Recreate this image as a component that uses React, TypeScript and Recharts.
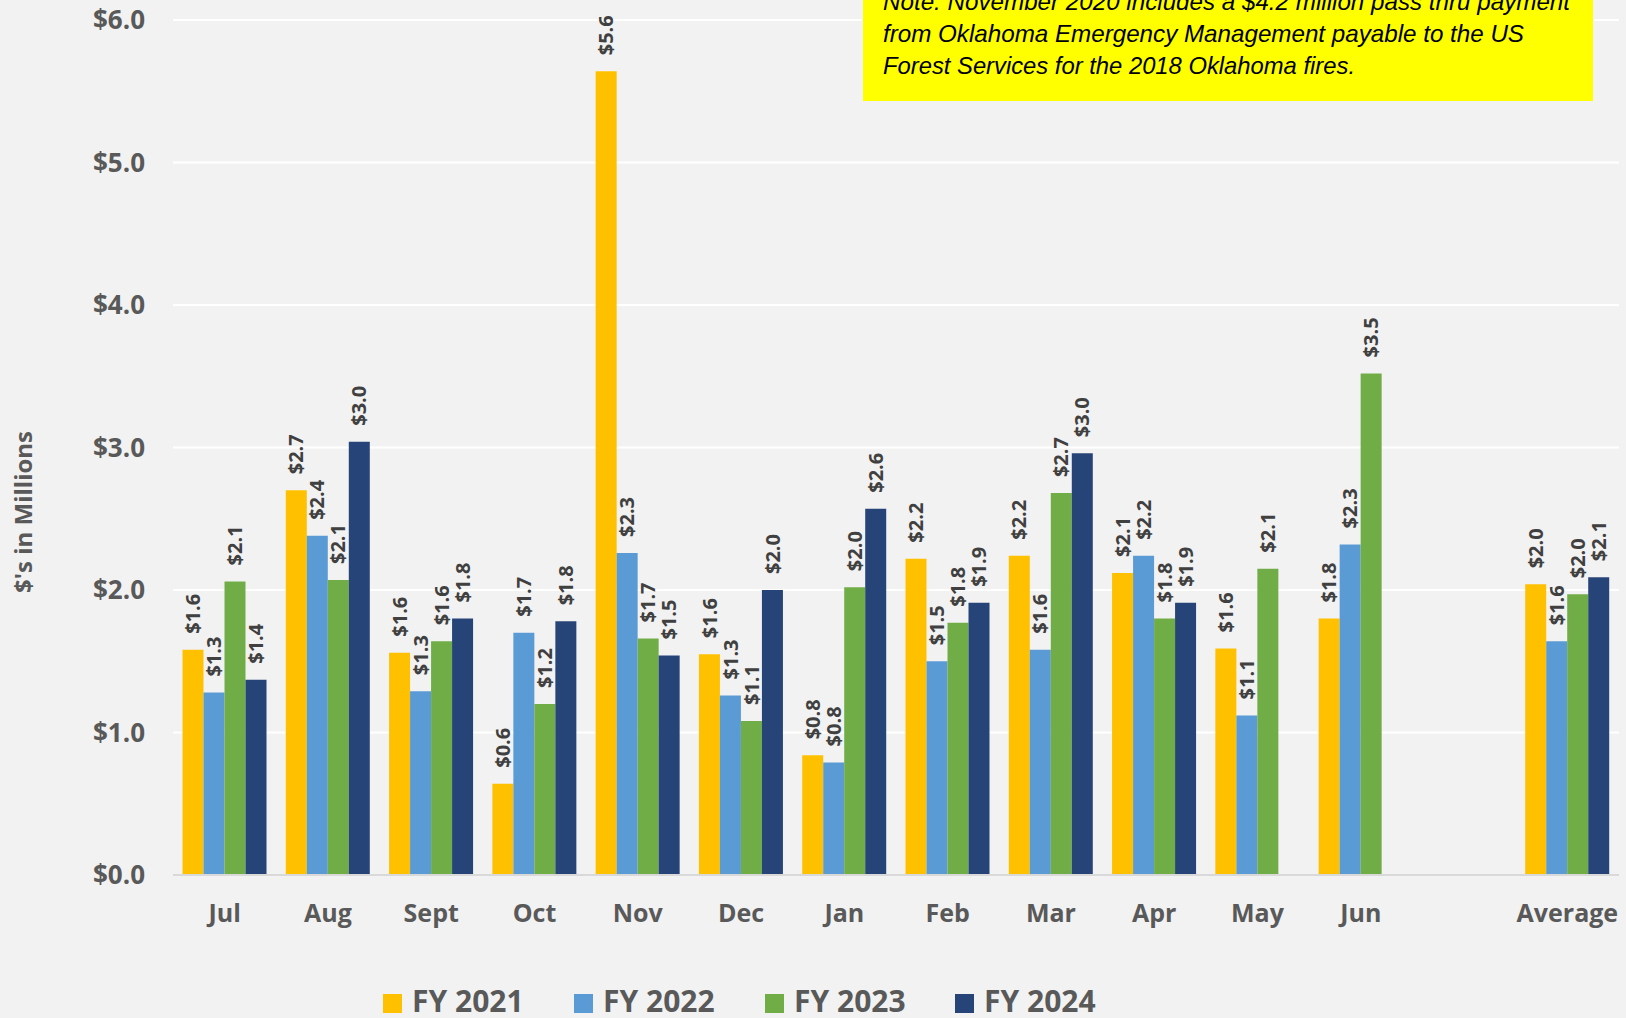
import React from "react";
import { BarChart, Bar, XAxis, YAxis, CartesianGrid, Legend, LabelList } from "recharts";

const categories = ["Jul", "Aug", "Sept", "Oct", "Nov", "Dec", "Jan", "Feb", "Mar", "Apr", "May", "Jun", "", "Average"];
const fy2021 = [1.58, 2.70, 1.56, 0.64, 5.64, 1.55, 0.84, 2.22, 2.24, 2.12, 1.59, 1.80, null, 2.04];
const fy2022 = [1.28, 2.38, 1.29, 1.70, 2.26, 1.26, 0.79, 1.50, 1.58, 2.24, 1.12, 2.32, null, 1.64];
const fy2023 = [2.06, 2.07, 1.64, 1.20, 1.66, 1.08, 2.02, 1.77, 2.68, 1.80, 2.15, 3.52, null, 1.97];
const fy2024 = [1.37, 3.04, 1.80, 1.78, 1.54, 2.00, 2.57, 1.91, 2.96, 1.91, null, null, null, 2.09];
const yTicks = [0, 1, 2, 3, 4, 5, 6];

const seriesNames = ["FY 2021", "FY 2022", "FY 2023", "FY 2024"];
const seriesKeys = ["fy2021", "fy2022", "fy2023", "fy2024"];
const seriesColors = ["#FFC000", "#5B9BD5", "#70AD47", "#264478"];

const noteLines = [
  "Note: November 2020 includes a $4.2 million pass thru payment",
  "from Oklahoma Emergency Management payable to the US",
  "Forest Services for the 2018 Oklahoma fires.",
];

const data = categories.map((c, i) => ({
  name: c,
  fy2021: fy2021[i],
  fy2022: fy2022[i],
  fy2023: fy2023[i],
  fy2024: fy2024[i],
}));

const FONT = "'Open Sans', 'Liberation Sans', sans-serif";
const GRAY = "#595959";

const BarLabel = (props: any) => {
  const { x, y, width, value } = props;
  if (value === null || value === undefined) return null;
  const cx = x + width / 2;
  const ty = y - 16;
  return (
    <text
      x={cx}
      y={ty}
      dy="0.36em"
      transform={`rotate(-90, ${cx}, ${ty})`}
      textAnchor="start"
      fontFamily={FONT}
      fontWeight={700}
      fontSize={20}
      fill="#404040"
    >
      {`$${Number(value).toFixed(1)}`}
    </text>
  );
};

const LegendContent = () => {
  const lefts = [383, 574, 765, 955];
  return (
    <svg width={1626} height={73} style={{ display: "block" }}>
      {seriesNames.map((n, i) => (
        <g key={n}>
          <rect x={lefts[i]} y={49} width={19} height={19} fill={seriesColors[i]} />
          <text x={lefts[i] + 29} y={67} fontFamily={FONT} fontWeight={700} fontSize={30} fill={GRAY}>
            {n}
          </text>
        </g>
      ))}
    </svg>
  );
};

export default function App() {
  return (
    <div style={{ position: "absolute", left: 0, top: 0, width: 1626, height: 1018, background: "#F2F2F2", overflow: "hidden" }}>
      <BarChart
        width={1626}
        height={1018}
        data={data}
        margin={{ top: 20, right: 7, left: 0, bottom: 0 }}
        barCategoryGap="9.2%"
        barGap={0}
      >
        <CartesianGrid vertical={false} stroke="#FFFFFF" strokeWidth={2} />
        <XAxis
          dataKey="name"
          height={70}
          tickLine={false}
          axisLine={{ stroke: "#D9D9D9", strokeWidth: 2 }}
          tickSize={0}
          tickMargin={29}
          interval={0}
          tick={{ fontFamily: FONT, fontWeight: 700, fontSize: 25, fill: GRAY }}
        />
        <YAxis
          width={173}
          domain={[0, 6]}
          ticks={yTicks}
          axisLine={false}
          tickLine={false}
          tickSize={0}
          tickMargin={28}
          tickFormatter={(v: number) => `$${v.toFixed(1)}`}
          tick={{ fontFamily: FONT, fontWeight: 700, fontSize: 26, fill: GRAY }}
          label={{
            content: () => (
              <text
                x={23}
                y={512}
                transform="rotate(-90, 23, 512)"
                textAnchor="middle"
                dy="0.36em"
                fontFamily={FONT}
                fontWeight={700}
                fontSize={24}
                fill={GRAY}
              >
                $'s in Millions
              </text>
            ),
          }}
        />
        <Legend
          verticalAlign="bottom"
          width={1626}
          wrapperStyle={{ left: 0, bottom: 0, margin: 0, padding: 0 }}
          content={() => <LegendContent />}
        />
        {seriesKeys.map((k, i) => (
          <Bar key={k} dataKey={k} name={seriesNames[i]} fill={seriesColors[i]} isAnimationActive={false}>
            <LabelList dataKey={k} content={BarLabel} />
          </Bar>
        ))}
      </BarChart>
      <svg width={1626} height={110} style={{ position: "absolute", left: 0, top: 0, pointerEvents: "none" }}>
        <rect x={863} y={-10} width={730} height={111} fill="#FFFF00" />
        {noteLines.map((line, i) => (
          <text
            key={i}
            x={883}
            y={9.5 + i * 32.3}
            fontFamily="'Liberation Sans', Arial, sans-serif"
            fontStyle="italic"
            fontSize={24}
            fill="#000000"
            textLength={[687, 641, 472][i]}
            lengthAdjust="spacingAndGlyphs"
          >
            {line}
          </text>
        ))}
      </svg>
    </div>
  );
}
